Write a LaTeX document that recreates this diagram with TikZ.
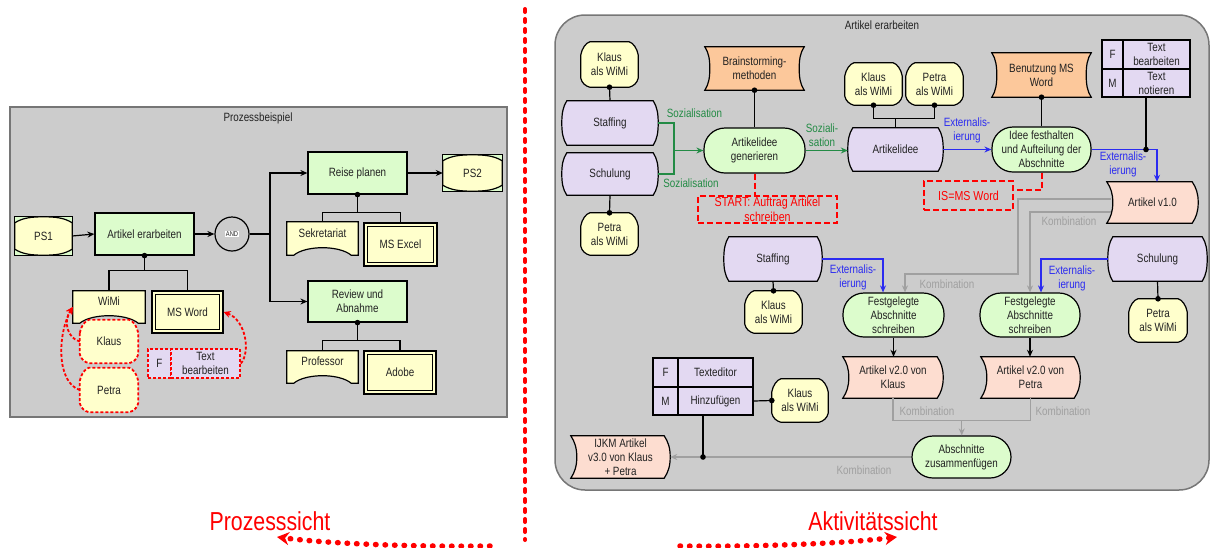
\documentclass[tikz,border=0pt]{standalone}
\usepackage{fontspec}
\setmainfont{Liberation Sans}[FakeStretch=0.82]
\usetikzlibrary{arrows.meta,calc}

\definecolor{panel}{HTML}{CCCCCC}
\definecolor{frame}{HTML}{767676}
\definecolor{fgreen}{HTML}{DCFCCC}
\definecolor{pyellow}{HTML}{FFFFCC}
\definecolor{ppurple}{HTML}{E3D9F2}
\definecolor{porange}{HTML}{FCC89B}
\definecolor{psalmon}{HTML}{FDDDD0}
\definecolor{tgreen}{HTML}{238B45}
\definecolor{tblue}{HTML}{2B2BF0}
\definecolor{tgrey}{HTML}{A0A0A0}
\definecolor{ink}{HTML}{222222}
\definecolor{vred}{HTML}{FF0000}

\pgfdeclarelayer{panels}
\pgfdeclarelayer{shapes}
\pgfsetlayers{panels,shapes,main}

% node placement: style, name, centre, width, height, text
\newcommand\place[6]{\node[#1,minimum width=#4pt,minimum height=#5pt] (#2) at (#3) {#6};}

% knowledge category: both sides bulge outwards
\newcommand\barrelpath[2]{%
  \filldraw[fill=#2,outl] ($(#1.north west)+(5,0)$) -- ($(#1.north east)+(-5,0)$)
    .. controls ($(#1.north east)+(-1,6)$) and ($(#1.east)+(0,-9)$) .. (#1.east)
    .. controls ($(#1.east)+(0,9)$) and ($(#1.south east)+(-1,-6)$) .. ($(#1.south east)+(-5,0)$)
    -- ($(#1.south west)+(5,0)$)
    .. controls ($(#1.south west)+(1,-6)$) and ($(#1.west)+(0,9)$) .. (#1.west)
    .. controls ($(#1.west)+(0,-9)$) and ($(#1.north west)+(1,6)$) .. ($(#1.north west)+(5,0)$) -- cycle;}
% knowledge: both sides pinched inwards
\newcommand\pinchpath[2]{%
  \filldraw[fill=#2,outl] (#1.north west) -- (#1.north east)
    .. controls ($(#1.north east)+(-4,6)$) and ($(#1.east)+(-5,-9)$) .. ($(#1.east)+(-5,0)$)
    .. controls ($(#1.east)+(-5,9)$) and ($(#1.south east)+(-4,-6)$) .. (#1.south east)
    -- (#1.south west)
    .. controls ($(#1.south west)+(4,-6)$) and ($(#1.west)+(5,9)$) .. ($(#1.west)+(5,0)$)
    .. controls ($(#1.west)+(5,-9)$) and ($(#1.north west)+(4,6)$) .. (#1.north west) -- cycle;}
% document: both sides bent to the right
\newcommand\docpath[2]{%
  \filldraw[fill=#2,outl] (#1.north west) -- ($(#1.north east)+(-6,0)$)
    .. controls ($(#1.north east)+(-2,6)$) and ($(#1.east)+(0,-9)$) .. (#1.east)
    .. controls ($(#1.east)+(0,9)$) and ($(#1.south east)+(-2,-6)$) .. ($(#1.south east)+(-6,0)$)
    -- (#1.south west)
    .. controls ($(#1.south west)+(4,-6)$) and ($(#1.west)+(6,9)$) .. ($(#1.west)+(6,0)$)
    .. controls ($(#1.west)+(6,-9)$) and ($(#1.north west)+(4,6)$) .. (#1.north west) -- cycle;}
% person: cut corners
\newcommand\personpath[2][outl]{%
  \filldraw[fill=pyellow,#1] ($(#2.north west)+(0,13)$)
    .. controls ($(#2.north west)+(1,7)$) and ($(#2.north west)+(5,1)$) .. ($(#2.north west)+(9,0)$)
    -- ($(#2.north east)+(-9,0)$)
    .. controls ($(#2.north east)+(-5,1)$) and ($(#2.north east)+(-1,7)$) .. ($(#2.north east)+(0,13)$)
    -- ($(#2.south east)+(0,-9)$)
    .. controls ($(#2.south east)+(-1,-4)$) and ($(#2.south east)+(-5,-1)$) .. ($(#2.south east)+(-9,0)$)
    -- ($(#2.south west)+(9,0)$)
    .. controls ($(#2.south west)+(5,-1)$) and ($(#2.south west)+(1,-4)$) .. ($(#2.south west)+(0,-9)$) -- cycle;}
% organisational unit: concave bottom
\newcommand\orgpath[1]{%
  \filldraw[fill=pyellow,outl] (#1.north west) -- (#1.north east) -- (#1.south east)
    -- ($(#1.south east)+(-7,0)$)
    .. controls ($(#1.south east)+(-19,-10)$) and ($(#1.south west)+(19,-10)$) .. ($(#1.south west)+(7,0)$)
    -- (#1.south west) -- cycle;}
% process interface
\newcommand\eventpath[1]{%
  \filldraw[fill=fgreen,outl] (#1.north west) rectangle (#1.south east);
  \filldraw[fill=pyellow,outl] ($(#1.north west)+(0,6)$)
    .. controls ($(#1.north west)+(8,1)$) and ($(#1.north)+(-12,0)$) .. (#1.north)
    .. controls ($(#1.north)+(12,0)$) and ($(#1.north east)+(-8,1)$) .. ($(#1.north east)+(0,6)$)
    -- ($(#1.south east)+(0,-6)$)
    .. controls ($(#1.south east)+(-8,-1)$) and ($(#1.south)+(12,0)$) .. (#1.south)
    .. controls ($(#1.south)+(-12,0)$) and ($(#1.south west)+(8,-1)$) .. ($(#1.south west)+(0,-6)$) -- cycle;}

\begin{document}
\begin{tikzpicture}[x=1pt,y=-1pt,
  base/.style={font=\fontsize{12}{14}\selectfont,text=ink,align=center,inner sep=0pt},
  plainbox/.style={base},
  outl/.style={draw=black,line width=1.2pt},
  fn/.style={base,draw=black,line width=1.2pt,fill=fgreen},
  act/.style={base,draw=black,line width=1.2pt,fill=fgreen,rounded corners=21pt},
  tool/.style={base,draw=black,line width=1.2pt,fill=pyellow},
  org/.style={base,text height=9pt,text depth=11.5pt},
  cell/.style={base,draw=black,line width=1.2pt,fill=ppurple},
  rcell/.style={base,draw=vred,line width=1.8pt,dash pattern=on 3pt off 2pt,fill=ppurple},
  redbox/.style={base,font=\fontsize{13}{15}\selectfont,draw=vred,line width=2pt,dash pattern=on 6pt off 3pt,text=vred},
  ln/.style={draw=black,line width=1.2pt},
  arr/.style={ln,-{Stealth[length=7pt,width=6pt]}},
  gln/.style={draw=tgreen,line width=1.3pt},
  garr/.style={gln,-{Stealth[length=7pt,width=6pt]}},
  barr/.style={draw=tblue,line width=1.3pt,-{Stealth[length=7pt,width=6pt]}},
  kln/.style={draw=tgrey,line width=1.4pt},
  karr/.style={kln,-{Stealth[length=7pt,width=6pt]}},
  rdash/.style={draw=vred,line width=2pt,dash pattern=on 6pt off 3pt},
  rdarr/.style={draw=vred,line width=1.8pt,dash pattern=on 3pt off 2pt,-{Stealth[length=7pt,width=7pt]}},
  glabel/.style={base,text=tgreen},
  blabel/.style={base,text=tblue},
  klabel/.style={base,text=tgrey},
  bigred/.style={font=\fontsize{26}{30}\selectfont,text=vred,inner sep=0pt},
  sepline/.style={draw=vred,line width=4pt,line cap=round,dash pattern=on 3pt off 7pt},
  reddots/.style={draw=vred,line width=5.5pt,line cap=round,dash pattern=on 0.5pt off 9pt,-{Stealth[length=12pt,width=13pt]}}
]
\useasboundingbox (0,0) rectangle (1211,547);

\begin{pgfonlayer}{panels}
  \filldraw[fill=panel,draw=frame,line width=1.5pt] (10,107) rectangle (507,417);
  \filldraw[fill=panel,draw=frame,line width=1.5pt,rounded corners=30pt] (555,15) rectangle (1209,490);
\end{pgfonlayer}

% ---------- process view ----------
\node[base] (t1) at (258,118) {Prozessbeispiel};
\place{plainbox}{ps1}{43.5,236}{57}{38}{PS1}
\place{fn}{ae}{144.5,234}{99}{42}{Artikel erarbeiten}
\node[circle,draw=black,line width=1.2pt,fill=panel,minimum size=34pt,inner sep=0pt,
      font=\fontsize{7}{8}\selectfont,text=ink] (and) at (232,234)
      {\setlength\fboxsep{0.8pt}\colorbox{white}{AND}};
\place{fn}{rp}{357.5,173}{99}{42}{Reise planen}
\place{plainbox}{ps2}{472.5,173}{59}{36}{PS2}
\place{fn}{ra}{357.5,301.5}{99}{41}{Review und\\Abnahme}
\place{org}{sek}{322.5,238.5}{71}{33}{Sekretariat}
\place{tool}{excel}{400.5,244.5}{73}{43}{MS Excel}
\place{org}{prof}{322.5,367}{71}{32}{Professor}
\place{tool}{adobe}{400,372.5}{72}{43}{Adobe}
\place{org}{wimi}{109,307}{72}{32}{WiMi}
\place{tool}{msword}{187.5,312}{71}{42}{MS Word}
\place{plainbox}{klaus}{109,341.5}{58}{43}{Klaus}
\place{plainbox}{petra}{109,390}{58}{44}{Petra}
\place{rcell}{tf}{159.5,363.5}{23}{29}{F}
\place{rcell}{tb}{205.5,363.5}{69}{29}{Text\\bearbeiten}

% ---------- activity view ----------
\node[base] (t2) at (882,25) {Artikel erarbeiten};
\place{plainbox}{k1}{609.5,64.5}{57}{45}{Klaus\\als WiMi}
\place{plainbox}{st1}{610,123}{96}{44}{Staffing}
\place{plainbox}{sc1}{610,174}{96}{42}{Schulung}
\place{plainbox}{p1}{609.5,234}{57}{42}{Petra\\als WiMi}
\place{plainbox}{bm}{754.5,68.5}{99}{43}{Brainstorming-\\methoden}
\place{act}{ag}{754.5,150.5}{101}{45}{Artikelidee\\generieren}
\place{redbox}{start}{767.5,209.5}{139}{27}{START: Auftrag Artikel\\schreiben}
\place{plainbox}{k2}{873.5,84}{57}{42}{Klaus\\als WiMi}
\place{plainbox}{p2}{934.5,84}{57}{42}{Petra\\als WiMi}
\place{plainbox}{ai}{895.5,149.5}{95}{43}{Artikelidee}
\place{plainbox}{bw}{1041.5,75}{99}{44}{Benutzung MS\\Word}
\place{act}{if}{1041.5,149.5}{99}{45}{Idee festhalten\\und Aufteilung der\\Abschnitte}
\place{redbox}{is}{968.5,195.5}{89}{29}{IS=MS Word}
\place{cell}{f1}{1112.5,54.5}{21}{29}{F}
\place{cell}{tb1}{1156.5,54.5}{67}{29}{Text\\bearbeiten}
\place{cell}{m1}{1112.5,83}{21}{28}{M}
\place{cell}{tn1}{1156.5,83}{67}{28}{Text\\notieren}
\place{plainbox}{a1}{1152.5,202.5}{91}{41}{Artikel v1.0}
\place{plainbox}{st2}{773,259}{98}{44}{Staffing}
\place{plainbox}{k3}{773.5,312}{57}{42}{Klaus\\als WiMi}
\place{act}{fa1}{893.5,315}{101}{44}{Festgelegte\\Abschnitte\\schreiben}
\place{act}{fa2}{1030,315}{100}{44}{Festgelegte\\Abschnitte\\schreiben}
\place{plainbox}{av1}{893,377.5}{100}{41}{Artikel v2.0 von\\Klaus}
\place{plainbox}{av2}{1030.5,377.5}{99}{41}{Artikel v2.0 von\\Petra}
\place{plainbox}{sc2}{1157.5,259}{99}{44}{Schulung}
\place{plainbox}{p3}{1158,320.5}{58}{43}{Petra\\als WiMi}
\place{act}{az}{961.5,457}{99}{42}{Abschnitte\\zusammenfügen}
\place{cell}{f2}{665.5,372.5}{25}{29}{F}
\place{cell}{te}{715.5,372.5}{75}{29}{Texteditor}
\place{cell}{m2}{665.5,401}{25}{28}{M}
\place{cell}{hz}{715.5,401}{75}{28}{Hinzufügen}
\place{plainbox}{k4}{800,400.5}{56}{43}{Klaus\\als WiMi}
\place{plainbox}{ij}{620.5,457}{99}{42}{IJKM Artikel\\v3.0 von Klaus\\+ Petra}

% ---------- outlines of the special shapes ----------
\begin{pgfonlayer}{shapes}
  \eventpath{ps1}
  \eventpath{ps2}
  \foreach \n in {sek,prof,wimi} {\orgpath{\n}}
  \foreach \n in {klaus,petra} {\personpath[draw=vred,line width=1.8pt,dash pattern=on 3pt off 2pt]{\n}}
  \foreach \n in {k1,p1,k2,p2,k3,p3,k4} {\personpath{\n}}
  \foreach \n in {st1,sc1,ai,st2,sc2} {\barrelpath{\n}{ppurple}}
  \foreach \n in {bm,bw} {\pinchpath{\n}{porange}}
  \foreach \n in {a1,av1,av2,ij} {\docpath{\n}{psalmon}}
\end{pgfonlayer}
\foreach \n in {excel,adobe,msword}
  {\draw[outl] ($(\n.north west)+(4,4)$) rectangle ($(\n.south east)+(-4,-4)$);}

% ---------- connectors, process view ----------
\draw[arr] (ps1.east) -- (ae.west);
\draw[arr] (ae.east) -- (and.west);
\coordinate (jn) at (270,234);
\draw[ln] (and.east) -- (jn);
\draw[arr] (jn) |- (rp.west);
\draw[arr] (jn) |- (ra.west);
\draw[arr] (rp.east) -- (ps2.west);
\draw[ln] (ae.south) -- ++(0,15) coordinate (aej);
\draw[ln] (wimi.north) |- (aej) -| (msword.north);
\draw[ln] (rp.south) -- ++(0,18) coordinate (rpj);
\draw[ln] (sek.north) |- (rpj) -| (excel.north);
\draw[ln] (ra.south) -- ++(0,17.5) coordinate (raj);
\draw[ln] (prof.north) |- (raj) -| (adobe.north);
\foreach \n in {ae,rp,ra} {\fill (\n.south) circle[radius=2.8pt];}
\draw[rdarr] (klaus.west) .. controls ($(klaus.west)+(-12,-3)$) and ($(wimi.west)+(-10,15)$) .. (wimi.west);
\draw[rdarr] (petra.west) .. controls ($(petra.west)+(-24,-8)$) and ($(wimi.west)+(-15,26)$) .. (wimi.west);
\draw[rdarr] (tb.east) .. controls ($(tb.east)+(10,-12)$) and ($(msword.east)+(22,8)$) .. (msword.east);

% ---------- connectors, activity view ----------
\draw[ln] (k1.south) -- (st1.north);
\draw[ln] (sc1.south) -- (p1.north);
\draw[ln] (bm.south) -- (ag.north);
\coordinate (gj) at (674,150.5);
\draw[gln] (st1.east) -| (gj);
\draw[gln] (sc1.east) -| (gj);
\draw[garr] (gj) -- (ag.west);
\node[glabel] (ls1) at (694.5,113) {Sozialisation};
\node[glabel] (ls2) at (691,183.5) {Sozialisation};
\draw[garr] (ag.east) -- (ag.east -| ai.west);
\node[glabel] (ls3) at (822,135.5) {Soziali-\\sation};
\draw[rdash] (ag.south) -- (ag.south |- start.north);
\draw[ln] (k2.south) -- ++(0,13) -| (p2.south);
\draw[ln] (ai.north) -- ++(0,-10);
\draw[barr] (ai.east) -- (ai.east -| if.west);
\node[blabel] (le1) at (967,130.5) {Externalis-\\ierung};
\draw[ln] (bw.south) -- (if.north);
\draw[barr] (if.east) -| ($(a1.north)+(4.5,0)$);
\coordinate (tj) at ($(tn1.south)+(-10.5,0)$);
\draw[ln] (tj) -- (tj |- if.east);
\node[blabel] (le2) at (1123,164.5) {Externalis-\\ierung};
\draw[rdash] (if.south) |- ($(is.east)+(0,-5.5)$);
\draw[karr] ($(a1.west)+(4,-3.5)$) -| (1018,274) -| ($(fa1.north)+(11.5,0)$);
\draw[karr] ($(a1.west)+(4,9.5)$) -| (fa2.north);
\node[klabel] (lk1) at (947,284) {Kombination};
\node[klabel] (lk2) at (1069,221) {Kombination};
\draw[barr] (st2.east) -| ($(fa1.north)+(-10.5,0)$);
\node[blabel] (le3) at (853,277.5) {Externalis-\\ierung};
\draw[barr] (sc2.west) -| ($(fa2.north)+(11,0)$);
\node[blabel] (le4) at (1072,278.5) {Externalis-\\ierung};
\draw[ln] (st2.south) -- (k3.north);
\draw[ln] (sc2.south) -- (p3.north);
\draw[arr] (fa1.south) -- (fa1.south |- av1.north);
\draw[arr] (fa2.south) -- (fa2.south |- av2.north);
\draw[kln] (av1.south) -- ++(0,22) -| (av2.south);
\coordinate (kz) at ($(av1.south)!0.5!(av2.south)+(0,22)$);
\draw[karr] (kz) -- (kz |- az.north);
\node[klabel] (lk3) at (927,411) {Kombination};
\node[klabel] (lk4) at (1063,411) {Kombination};
\draw[karr] (az.west) -- (az.west -| ij.east);
\node[klabel] (lk5) at (864,470.5) {Kombination};
\draw[ln] (hz.east) -- (k4.west);
\coordinate (hj) at ($(hz.south)+(-12.5,0)$);
\draw[ln] (hj) -- (hj |- az.west);
\foreach \p in {k1.south,p1.north,bm.south,k2.south,p2.south,bw.south,k3.north,p3.north,k4.west}
  {\fill (\p) circle[radius=2.8pt];}
\fill (tj |- if.east) circle[radius=2.8pt];
\fill (hj |- az.west) circle[radius=2.8pt];

% ---------- separation and view captions ----------
\coordinate (sepTop) at (525,9);
\coordinate (sepBot) at (525,540);
\draw[sepline] (sepTop) -- (sepBot);
\node[bigred] (pv) at (270,521) {Prozesssicht};
\node[bigred] (avw) at (873,521) {Aktivitätssicht};
\coordinate (lA) at (490,546);
\coordinate (lB) at (277,537);
\draw[reddots] (lA) .. controls (420,547) and (330,544) .. (lB);
\coordinate (rA) at (680,546);
\coordinate (rB) at (897,537);
\draw[reddots] (rA) .. controls (750,547) and (840,544) .. (rB);
\end{tikzpicture}
\end{document}
